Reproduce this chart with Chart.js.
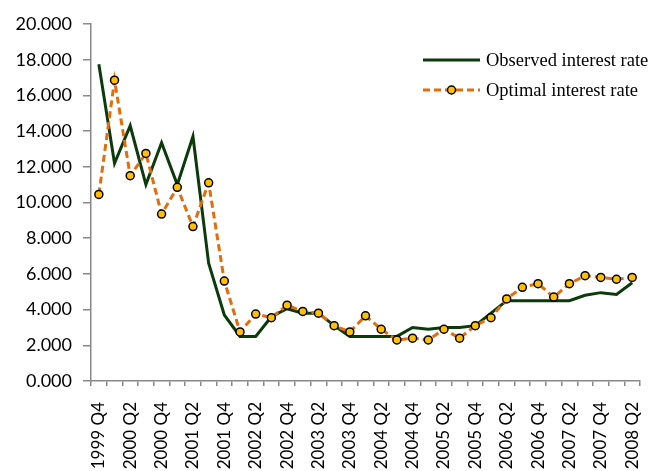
<!DOCTYPE html>
<html>
<head>
<meta charset="utf-8">
<script src="https://cdn.jsdelivr.net/npm/chart.js@4.4.0/dist/chart.umd.min.js"></script>
<style>
    html, body { margin: 0; padding: 0; background: #fff; }
    #wrap { width: 650px; height: 471px; position: relative; }
</style>
</head>
<body>
<div id="wrap"><canvas id="rate-chart"></canvas></div>
<script>
// Quarters on the x axis
const quarters = [
    '1999 Q4',
    '2000 Q1', '2000 Q2', '2000 Q3', '2000 Q4',
    '2001 Q1', '2001 Q2', '2001 Q3', '2001 Q4',
    '2002 Q1', '2002 Q2', '2002 Q3', '2002 Q4',
    '2003 Q1', '2003 Q2', '2003 Q3', '2003 Q4',
    '2004 Q1', '2004 Q2', '2004 Q3', '2004 Q4',
    '2005 Q1', '2005 Q2', '2005 Q3', '2005 Q4',
    '2006 Q1', '2006 Q2', '2006 Q3', '2006 Q4',
    '2007 Q1', '2007 Q2', '2007 Q3', '2007 Q4',
    '2008 Q1', '2008 Q2'
];

// Observed interest rate (%)
const observedRate = [
    17.75, 12.2, 14.3, 11.0, 13.35, 11.0, 13.7, 6.6, 3.7,
    2.5, 2.5, 3.6, 4.05, 3.8, 3.8, 3.1, 2.5,
    2.5, 2.5, 2.5, 3.0, 2.9, 3.0, 3.0, 3.1,
    3.8, 4.5, 4.5, 4.5, 4.5, 4.5, 4.8, 4.95,
    4.85, 5.5
];

// Optimal interest rate (%)
const optimalRate = [
    10.45, 16.85, 11.5, 12.75, 9.35, 10.85, 8.65, 11.1, 5.6,
    2.75, 3.75, 3.55, 4.25, 3.9, 3.8, 3.1, 2.75,
    3.65, 2.9, 2.3, 2.4, 2.3, 2.9, 2.4, 3.1,
    3.55, 4.6, 5.25, 5.45, 4.7, 5.45, 5.9, 5.8,
    5.7, 5.8
];

const axisColor = '#888888';

// Legend drawn inside the plot area (top right), like the original
const innerLegend = {
    id: 'innerLegend',
    afterDraw(chart) {
        const ctx = chart.ctx;
        const x0 = 423, x1 = 480, textX = 486;
        const rows = [60, 90];
        ctx.save();
        chart.data.datasets.forEach((ds, i) => {
            const y = rows[i];
            ctx.beginPath();
            ctx.strokeStyle = ds.borderColor;
            ctx.lineWidth = ds.borderWidth;
            ctx.setLineDash(ds.borderDash || []);
            ctx.moveTo(x0, y);
            ctx.lineTo(x1, y);
            ctx.stroke();
            ctx.setLineDash([]);
            if (ds.pointRadius > 0) {
                ctx.beginPath();
                ctx.arc((x0 + x1) / 2, y, ds.pointRadius, 0, Math.PI * 2);
                ctx.fillStyle = ds.pointBackgroundColor;
                ctx.fill();
                ctx.lineWidth = ds.pointBorderWidth;
                ctx.strokeStyle = ds.pointBorderColor;
                ctx.stroke();
            }
            ctx.fillStyle = '#000';
            ctx.font = '18.5px "Liberation Serif"';
            ctx.textBaseline = 'middle';
            ctx.textAlign = 'left';
            ctx.fillText(ds.label, textX, y + 1);
        });
        ctx.restore();
    }
};

new Chart(document.getElementById('rate-chart'), {
    type: 'line',
    data: {
        labels: quarters,
        datasets: [
            {
                label: 'Observed interest rate',
                data: observedRate,
                borderColor: '#0B3B0B',
                borderWidth: 3,
                tension: 0,
                pointRadius: 0,
                fill: false,
                order: 1
            },
            {
                label: 'Optimal interest rate',
                data: optimalRate,
                borderColor: '#E46C0A',
                borderWidth: 3,
                borderDash: [7, 4],
                tension: 0,
                pointRadius: 4,
                pointBackgroundColor: '#FFC000',
                pointBorderColor: '#000000',
                pointBorderWidth: 1.5,
                fill: false,
                order: 0
            }
        ]
    },
    options: {
        responsive: true,
        maintainAspectRatio: false,
        animation: false,
        layout: {
            padding: { top: 24, right: 10, left: 0, bottom: 0 }
        },
        plugins: {
            legend: { display: false },
            tooltip: { enabled: false }
        },
        scales: {
            x: {
                offset: true,
                grid: {
                    display: true,
                    offset: true,
                    drawOnChartArea: false,
                    drawTicks: true,
                    tickLength: 5,
                    color: axisColor,
                    lineWidth: 1.5
                },
                border: { display: true, color: axisColor, width: 1.5 },
                ticks: {
                    autoSkip: false,
                    maxRotation: 90,
                    minRotation: 90,
                    padding: 16,
                    color: '#000',
                    font: { family: 'Lato', size: 17 },
                    callback: function(value, index) {
                        return index % 2 === 0 ? quarters[index] : '';
                    }
                },
                afterFit(scale) {
                    // fixed axis band; labels need no extra side room
                    scale.height = 90;
                    scale.paddingLeft = 0;
                    scale.paddingRight = 0;
                }
            },
            y: {
                min: 0,
                max: 20,
                grid: {
                    drawOnChartArea: false,
                    drawTicks: true,
                    tickLength: 8,
                    color: axisColor,
                    lineWidth: 1.5
                },
                border: { display: true, color: axisColor, width: 1.5 },
                ticks: {
                    stepSize: 2,
                    padding: 11,
                    color: '#000',
                    font: { family: 'Lato', size: 18 },
                    callback: function(value) {
                        return value.toFixed(3);
                    }
                },
                afterFit(scale) { scale.width = 91; }
            }
        }
    },
    plugins: [innerLegend]
});
</script>
</body>
</html>
